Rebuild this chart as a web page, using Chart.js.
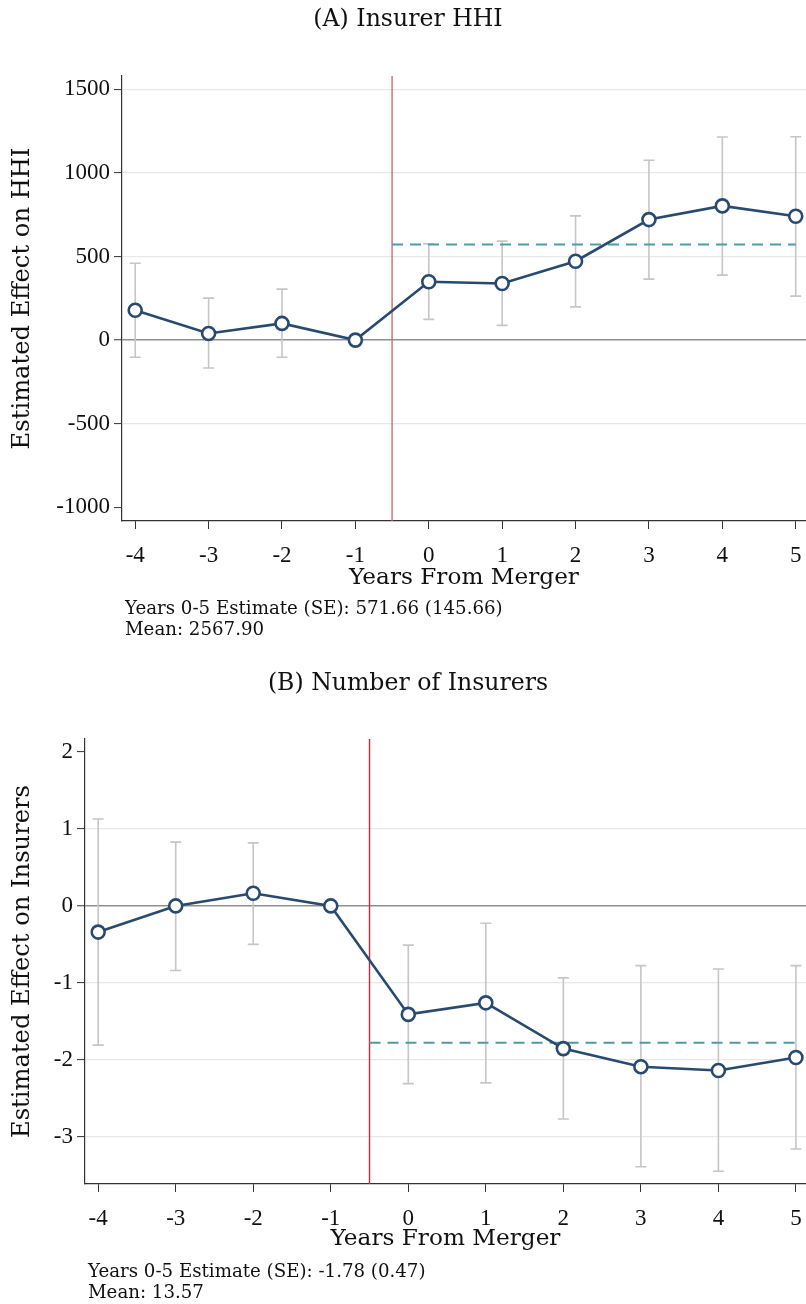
<!DOCTYPE html>
<html><head><meta charset="utf-8">
<script src="https://cdn.jsdelivr.net/npm/chart.js@4/dist/chart.umd.min.js"></script>
<style>
html,body{margin:0;padding:0;background:#fff;}
#wrap{position:relative;width:806px;height:1304px;overflow:hidden;}
.box{position:absolute;left:0;width:806px;}
canvas{display:block;}
</style></head><body>
<div id="wrap">
<div class="box" style="top:0;height:650px"><canvas id="cA" width="806" height="650"></canvas></div>
<div class="box" style="top:650px;height:654px"><canvas id="cB" width="806" height="654"></canvas></div>
</div>
<script>
// ---------- data ----------
const years = [-4, -3, -2, -1, 0, 1, 2, 3, 4, 5];
const xTickLabels = ['-4', '-3', '-2', '-1', '0', '1', '2', '3', '4', '5'];
const mergerX = -0.5;

const hhiTitle = '(A) Insurer HHI';
const hhiYLabel = 'Estimated Effect on HHI';
const hhiEst = [179, 40, 100, 0, 349, 339, 472, 721, 803, 741];
const hhiLo  = [-102, -167, -102, null, 124, 88, 199, 365, 389, 263];
const hhiHi  = [460, 251, 305, null, 576, 592, 743, 1076, 1215, 1217];
const hhiPooled = 571.66;
const hhiYTicks = [-1000, -500, 0, 500, 1000, 1500];
const hhiYTickLabels = ['-1000', '-500', '0', '500', '1000', '1500'];
const hhiNotes = ['Years 0-5 Estimate (SE): 571.66 (145.66)', 'Mean: 2567.90'];

const insTitle = '(B) Number of Insurers';
const insYLabel = 'Estimated Effect on Insurers';
const insEst = [-0.34, 0, 0.165, 0, -1.41, -1.26, -1.855, -2.09, -2.14, -1.97];
const insLo  = [-1.81, -0.84, -0.50, null, -2.31, -2.30, -2.77, -3.39, -3.45, -3.16];
const insHi  = [1.13, 0.83, 0.82, null, -0.51, -0.225, -0.936, -0.776, -0.82, -0.776];
const insPooled = -1.78;
const insYTicks = [-3, -2, -1, 0, 1, 2];
const insYTickLabels = ['-3', '-2', '-1', '0', '1', '2'];
const insNotes = ['Years 0-5 Estimate (SE): -1.78 (0.47)', 'Mean: 13.57'];

const xAxisTitle = 'Years From Merger';

// ---------- styling ----------
const TICKFONT = '"Liberation Serif", serif';
const TEXTFONT = '"DejaVu Serif", "Liberation Serif", serif';
const NAVY = '#284a70';
const TEAL = '#4a9bab';
const CI = '#c6c6c6';
const AXIS = '#333333';

const extras = {
  id: 'extras',
  beforeDatasetsDraw(chart, args, o) {
    const {ctx, chartArea: a, scales: {x, y}} = chart;
    ctx.save();
    // confidence intervals
    ctx.strokeStyle = CI; ctx.lineWidth = 1.6;
    o.lo.forEach((lo, i) => {
      const hi = o.hi[i];
      if (lo === null || hi === null) return;
      const px = x.getPixelForValue(o.xs[i]);
      const p1 = y.getPixelForValue(lo), p2 = y.getPixelForValue(hi);
      ctx.beginPath();
      ctx.moveTo(px, p1); ctx.lineTo(px, p2);
      ctx.moveTo(px - 5.5, p1); ctx.lineTo(px + 5.5, p1);
      ctx.moveTo(px - 5.5, p2); ctx.lineTo(px + 5.5, p2);
      ctx.stroke();
    });
    // merger line
    const mx = x.getPixelForValue(o.mergerX);
    ctx.strokeStyle = o.red; ctx.lineWidth = 1.4;
    ctx.beginPath(); ctx.moveTo(mx, a.top); ctx.lineTo(mx, a.bottom); ctx.stroke();
    ctx.restore();
  },
  afterDraw(chart, args, o) {
    const {ctx} = chart;
    ctx.save();
    ctx.fillStyle = '#111';
    ctx.textAlign = 'center'; ctx.textBaseline = 'middle';
    ctx.font = '23.6px ' + TEXTFONT;
    ctx.fillText(o.title, o.titleX, o.titleY);
    ctx.textAlign = 'left';
    ctx.font = '18.2px ' + TEXTFONT;
    o.notes.forEach((t, i) => ctx.fillText(t, o.noteX, o.noteY + i * o.noteGap));
    ctx.restore();
  }
};

function makeChart(id, g) {
  const ctx = document.getElementById(id).getContext('2d');
  return new Chart(ctx, {
    type: 'line',
    data: {
      datasets: [
        {
          data: g.est.map((v, i) => ({x: years[i], y: v})),
          borderColor: NAVY, borderWidth: 2.6,
          pointRadius: 6.5, pointBorderWidth: 2.6,
          pointBackgroundColor: '#ffffff', pointBorderColor: NAVY,
          tension: 0, order: 1, clip: false
        },
        {
          data: [{x: mergerX, y: g.pooled}, {x: years[years.length - 1], y: g.pooled}],
          borderColor: TEAL, borderWidth: 2, borderDash: [11, 7],
          pointRadius: 0, order: 2
        }
      ]
    },
    options: {
      responsive: false, animation: false,
      layout: {autoPadding: false, padding: {top: g.top, left: 0, right: 0, bottom: 0}},
      plugins: {
        legend: {display: false}, tooltip: {enabled: false}, title: {display: false},
        extras: {lo: g.lo, hi: g.hi, xs: years, mergerX: mergerX, red: g.red,
                 title: g.title, titleX: 408, titleY: g.titleY,
                 notes: g.notes, noteX: g.noteX, noteY: g.noteY, noteGap: 21}
      },
      scales: {
        x: {
          type: 'linear', min: g.xMin, max: g.xMax,
          afterFit: s => { s.height = g.xH; s.paddingLeft = 0; s.paddingRight = 0; },
          afterBuildTicks: s => { s.ticks = years.map(v => ({value: v})); },
          ticks: {callback: (v) => xTickLabels[years.indexOf(v)], color: '#111',
                  font: {family: TICKFONT, size: 23}, padding: 13, maxRotation: 0, autoSkip: false},
          grid: {drawOnChartArea: false, drawTicks: true, tickLength: 8, tickColor: AXIS, tickWidth: 1},
          border: {display: true, color: AXIS, width: 1.2},
          title: {display: true, text: xAxisTitle, color: '#111',
                  font: {family: TEXTFONT, size: 23.2}, padding: {top: 0, bottom: g.xTitlePad}}
        },
        y: {
          type: 'linear', min: g.yMin, max: g.yMax,
          afterFit: s => { s.width = g.yW; s.paddingTop = 0; s.paddingBottom = 0; },
          afterBuildTicks: s => { s.ticks = g.yTicks.map(v => ({value: v})); },
          ticks: {callback: (v) => g.yTickLabels[g.yTicks.indexOf(v)],
                  color: '#111', font: {family: TICKFONT, size: 23}, padding: 4},
          grid: {
            drawTicks: true, tickLength: 8, tickColor: AXIS, tickWidth: 1,
            color: c => c.tick && c.tick.value === 0 ? '#8f8f8f' :
                        (g.noGrid.includes(c.tick && c.tick.value) ? 'rgba(0,0,0,0)' : '#e8e8e8'),
            lineWidth: c => c.tick && c.tick.value === 0 ? 1.5 : 1.2
          },
          border: {display: true, color: AXIS, width: 1.2},
          title: {display: true, text: g.yLabel, color: '#111',
                  font: {family: TEXTFONT, size: 24.2}, padding: {top: 8, bottom: 0}}
        }
      }
    },
    plugins: [extras]
  });
}

makeChart('cA', {
  title: hhiTitle, yLabel: hhiYLabel, est: hhiEst, lo: hhiLo, hi: hhiHi, pooled: hhiPooled,
  yTicks: hhiYTicks, yTickLabels: hhiYTickLabels, yMin: -1082, yMax: 1580, xMin: -4.18, xMax: 5.14,
  top: 76, yW: 122, xH: 129, xTitlePad: 58, red: '#cf6878', noGrid: [-1000],
  titleY: 20, notes: hhiNotes, noteX: 125, noteY: 609
});
makeChart('cB', {
  title: insTitle, yLabel: insYLabel, est: insEst, lo: insLo, hi: insHi, pooled: insPooled,
  yTicks: insYTicks, yTickLabels: insYTickLabels, yMin: -3.615, yMax: 2.17, xMin: -4.17, xMax: 5.13,
  top: 89, yW: 85, xH: 120, xTitlePad: 51, red: '#c8283a', noGrid: [2],
  titleY: 34, notes: insNotes, noteX: 88, noteY: 622
});
</script>
</body></html>
